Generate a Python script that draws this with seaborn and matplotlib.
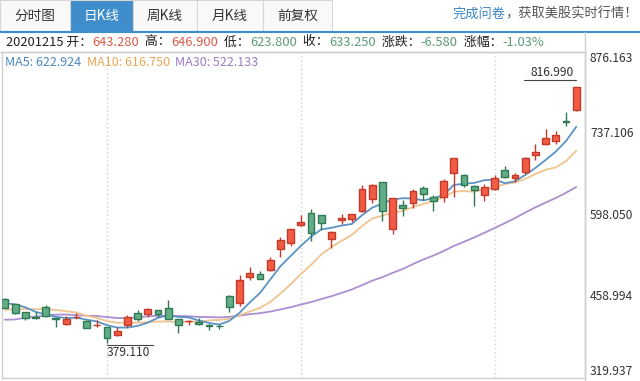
import numpy as np
import pandas as pd
import seaborn as sns
import matplotlib.pyplot as plt
from matplotlib.patches import Rectangle
from matplotlib.transforms import offset_copy, blended_transform_factory

# 日K数据 2020-10-16 ~ 2021-01-07
dates = ['20201016', '20201019', '20201020', '20201021', '20201022', '20201023', '20201026',
         '20201027', '20201028', '20201029', '20201030', '20201102', '20201103', '20201104',
         '20201105', '20201106', '20201109', '20201110', '20201111', '20201112', '20201113',
         '20201116', '20201117', '20201118', '20201119', '20201120', '20201123', '20201124',
         '20201125', '20201127', '20201130', '20201201', '20201202', '20201203', '20201204',
         '20201207', '20201208', '20201209', '20201210', '20201211', '20201214', '20201215',
         '20201216', '20201217', '20201218', '20201221', '20201222', '20201223', '20201224',
         '20201228', '20201229', '20201230', '20201231', '20210104', '20210105', '20210106',
         '20210107']
open_ = [454.44, 446.24, 431.75, 422.70, 441.92, 421.84, 411.63, 423.76, 416.48, 409.96,
         406.90, 394.00, 409.73, 430.62, 428.30, 436.10, 439.50, 420.09, 416.45, 415.05,
         410.85, 408.93, 460.17, 448.35, 492.00, 497.99, 503.50, 540.40, 550.06, 581.16,
         602.21, 597.59, 556.44, 590.02, 591.01, 604.92, 625.51, 653.69, 574.37, 615.01,
         619.00, 643.28, 628.23, 628.19, 668.90, 666.24, 648.00, 632.20, 642.99, 674.51,
         661.00, 672.00, 699.99, 719.46, 723.66, 758.49, 777.63]
high = [455.95, 447.00, 431.75, 432.95, 445.23, 422.89, 425.76, 430.50, 418.60, 418.06,
        407.59, 406.98, 427.77, 435.40, 440.00, 436.57, 452.50, 420.09, 418.70, 423.00,
        412.53, 412.45, 462.00, 496.00, 508.61, 502.50, 526.00, 559.99, 574.00, 598.78,
        607.80, 597.85, 571.54, 598.97, 599.04, 648.79, 651.28, 654.32, 627.75, 624.00,
        642.75, 646.90, 632.50, 658.82, 695.00, 668.50, 649.88, 651.50, 666.09, 681.40,
        669.90, 696.60, 718.72, 744.49, 740.84, 774.00, 816.99]
low = [438.85, 428.87, 419.05, 421.25, 424.51, 407.38, 410.00, 420.10, 406.00, 406.46,
       379.11, 392.30, 406.69, 417.10, 424.00, 424.28, 421.00, 396.03, 410.58, 409.52,
       401.66, 404.09, 433.01, 443.50, 487.57, 489.06, 501.79, 526.20, 545.37, 578.45,
       554.51, 572.05, 541.21, 582.43, 585.50, 603.05, 618.50, 588.00, 566.34, 596.80,
       610.20, 623.80, 605.00, 619.50, 628.54, 646.07, 614.23, 622.57, 641.00, 660.80,
       655.00, 668.36, 691.12, 717.19, 719.20, 749.10, 775.20]
close = [439.67, 430.83, 421.94, 422.64, 425.79, 420.63, 420.28, 424.68, 406.02, 410.83,
         388.04, 400.51, 423.90, 420.98, 438.09, 429.95, 421.26, 410.36, 417.13, 411.76,
         408.50, 408.09, 441.61, 486.64, 499.27, 489.61, 521.85, 555.38, 574.00, 585.76,
         567.60, 584.76, 568.82, 593.38, 599.04, 641.76, 649.88, 604.48, 627.07, 609.99,
         639.83, 633.25, 622.77, 655.90, 695.00, 649.86, 640.34, 645.98, 661.77, 663.69,
         665.99, 694.78, 705.67, 729.77, 735.11, 755.98, 816.04]
# 之前的收盘价, 只用来算均线
prior_close = [418.32, 330.21, 366.28, 371.34, 372.72, 419.62, 449.76, 441.76, 423.43, 442.15,
               449.39, 424.23, 380.36, 387.79, 407.34, 421.20, 419.07, 429.01, 448.16, 415.09,
               425.68, 413.98, 425.30, 425.92, 434.00, 442.30, 446.65, 461.30, 448.88]

tick_values = [319.937, 458.994, 598.050, 737.106, 876.163]
tab_labels = ['分时图', '日K线', '周K线', '月K线', '前复权']
selected_day = '20201215'

UP_FILL, UP_EDGE = '#f25c45', '#c23a2a'
DOWN_FILL, DOWN_EDGE = '#62ad86', '#2f7a55'
RED_TXT, GREEN_TXT, DARK = '#dc5a48', '#5c9c7a', '#222222'
MA_COLORS = {'MA5': '#5b93c4', 'MA10': '#f0c48f', 'MA30': '#ab8fd0'}
MA_TXT = {'MA5': '#4a88be', 'MA10': '#e9a652', 'MA30': '#9b7bc2'}

sns.set_style("white")
plt.rcParams['font.family'] = ['Noto Sans CJK SC', 'DejaVu Sans']

W, H = 640, 381
fig = plt.figure(figsize=(W / 100, H / 100), dpi=100)
renderer = fig.canvas.get_renderer()


def fx(px):
    return px / W


def fy(py):
    return 1 - py / H


def segments(x0, y, parts, size):
    # 文字片段依次排开, 数字表示额外间距(像素)
    x = x0
    for p in parts:
        if isinstance(p, (int, float)):
            x += p
            continue
        s, c = p
        t = fig.text(fx(x), fy(y), s, color=c, fontsize=size, ha='left', va='center')
        x += t.get_window_extent(renderer).width
    return x


# 均线
full = pd.Series(prior_close + close)
n = len(close)
ma = {k: full.rolling(w).mean().iloc[-n:].to_numpy() for k, w in [('MA5', 5), ('MA10', 10), ('MA30', 30)]}

df = pd.DataFrame({'date': dates, 'open': open_, 'high': high, 'low': low, 'close': close})
df['idx'] = np.arange(n)

# 主图区域
ax = fig.add_axes([fx(2), 1 - 378 / H, 583 / W, 326 / H])
ax.set_xlim(-0.29, 56.86)
ax.set_ylim(tick_values[0], tick_values[-1])
ax.set_xticks([])
ax.set_yticks([])
for s in ax.spines.values():
    s.set_color('#d0d0d0')
    s.set_linewidth(1)

for gx in [10, 29, 48]:
    ax.axvline(gx, color='#cfcfcf', lw=1, ls=(0, (1, 2)), zorder=0)

for k in ['MA30', 'MA10', 'MA5']:
    sns.lineplot(x=df['idx'], y=ma[k], ax=ax, color=MA_COLORS[k], lw=1.3, zorder=2)

up = df['close'] >= df['open']
for mask, fc, ec in [(up, UP_FILL, UP_EDGE), (~up, DOWN_FILL, DOWN_EDGE)]:
    d = df[mask]
    ax.vlines(d['idx'], d['low'], d['high'], color=ec, lw=1, zorder=3)
    ax.bar(d['idx'], (d['close'] - d['open']).abs().clip(lower=0.6), bottom=d[['open', 'close']].min(axis=1),
           width=0.68, color=fc, edgecolor=ec, linewidth=1, zorder=4)

# 最高/最低标注
imax = int(np.argmax(high))
imin = int(np.argmin(low))
tr_hi = offset_copy(ax.transData, fig=fig, x=0, y=7, units='dots')
ax.plot([imax - 5.1, imax], [high[imax]] * 2, color='#444444', lw=0.8, transform=tr_hi)
ax.text(imax - 0.2, high[imax], f'{high[imax]:.3f}', transform=offset_copy(ax.transData, fig=fig, y=8, units='dots'),
        ha='right', va='bottom', fontsize=8.7, color='#333333')
tr_lo = offset_copy(ax.transData, fig=fig, x=0, y=-2, units='dots')
ax.plot([imin, imin + 4.5], [low[imin]] * 2, color='#444444', lw=0.8, transform=tr_lo)
ax.text(imin, low[imin], f'{low[imin]:.3f}', transform=offset_copy(ax.transData, fig=fig, y=-3, units='dots'),
        ha='left', va='top', fontsize=8.7, color='#333333')

# 右侧价格刻度
tr_axis = blended_transform_factory(fig.transFigure, ax.transData)
for j, v in enumerate(tick_values):
    va = 'bottom' if j == 0 else ('top' if j == len(tick_values) - 1 else 'center')
    fig.text(fx(590), v, f'{v:.3f}', transform=tr_axis, ha='left', va=va, fontsize=8.7, color='#333333')

# 顶部标签页
tab_edges = [0, 70, 133, 197, 263, 332]
for i, lab in enumerate(tab_labels):
    x0, x1 = tab_edges[i], tab_edges[i + 1]
    sel = lab == '日K线'
    fig.add_artist(Rectangle((fx(x0), fy(31)), fx(x1 - x0), 31 / H, transform=fig.transFigure,
                             facecolor='#3f8dcb' if sel else '#f9f9f9', edgecolor='#d6d6d6', lw=0.8))
    fig.text(fx((x0 + x1) / 2), fy(16), lab, ha='center', va='center', fontsize=9.8,
             color='white' if sel else '#333333')
fig.add_artist(plt.Line2D([0, 1], [fy(31.5), fy(31.5)], transform=fig.transFigure, color='#3f8dcb', lw=1.5))
segments(452, 14, [('完成问卷', '#3d86c6'), ('，获取美股实时行情！', '#555555')], 9.5)

# 信息行
fig.add_artist(plt.Line2D([fx(585), fx(585)], [0, fy(32)], transform=fig.transFigure, color='#d0d0d0', lw=1))
fig.add_artist(plt.Line2D([0, fx(585)], [fy(52), fy(52)], transform=fig.transFigure, color='#d0d0d0', lw=1))
k = dates.index(selected_day)
prev = close[k - 1]


def col(v):
    return RED_TXT if v > prev else GREEN_TXT


chg = close[k] - prev
gap = 3.5
segments(6, 42, [(f'{selected_day} 开：', DARK), (f'{open_[k]:.3f}', col(open_[k])), gap,
                 (' 高：', DARK), (f'{high[k]:.3f}', col(high[k])), gap,
                 (' 低：', DARK), (f'{low[k]:.3f}', col(low[k])), gap,
                 (' 收：', DARK), (f'{close[k]:.3f}', col(close[k])), gap,
                 (' 涨跌：', DARK), (f'{chg:.3f}', col(close[k])), gap,
                 (' 涨幅：', DARK), (f'{chg / prev * 100:.2f}%', col(close[k]))], 9.3)

segments(5, 63, [(f'MA5: {ma["MA5"][k]:.3f}', MA_TXT['MA5']), ('  ', DARK),
                 (f'MA10: {ma["MA10"][k]:.3f}', MA_TXT['MA10']), ('  ', DARK),
                 (f'MA30: {ma["MA30"][k]:.3f}', MA_TXT['MA30'])], 9)

fig.savefig('out.png', dpi=100)
